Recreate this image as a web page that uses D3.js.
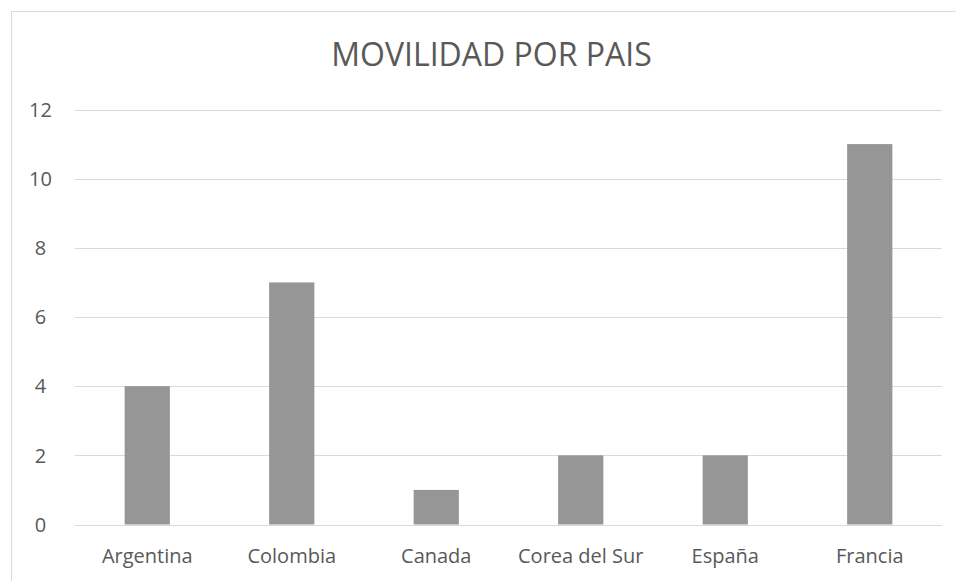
<!DOCTYPE html>
<html>
<head>
<meta charset="utf-8">
<script src="https://cdn.jsdelivr.net/npm/d3@7"></script>
<style>
  html, body { margin: 0; padding: 0; background: #fff; }
  svg { display: block; }
  text { font-family: "Open Sans", "Noto Sans", sans-serif; fill: #595959; }
</style>
</head>
<body>
<svg id="chart" width="956" height="581"></svg>
<script>
// Movilidad por país
const categories = ["Argentina", "Colombia", "Canada", "Corea del Sur", "España", "Francia"];
const values = [4, 7, 1, 2, 2, 11];
const yTicks = [0, 2, 4, 6, 8, 10, 12];
const title = "MOVILIDAD POR PAIS";

const W = 956, H = 581;
const margin = { left: 75, right: 14, top: 109.5, bottom: 56.5 };
const font = "'Open Sans', 'Noto Sans', sans-serif";

const svg = d3.select("#chart");

// chart frame
svg.append("rect")
  .attr("x", 11.5).attr("y", 11.5)
  .attr("width", W + 20).attr("height", H + 20)
  .attr("fill", "none").attr("stroke", "#d9d9d9").attr("stroke-width", 1);

const x = d3.scaleBand()
  .domain(categories)
  .range([margin.left, W - margin.right])
  .paddingInner(0.687)
  .paddingOuter(0.3435);

const y = d3.scaleLinear()
  .domain([0, 12])
  .range([H - margin.bottom, margin.top]);

// gridlines
svg.append("g")
  .selectAll("line")
  .data(yTicks)
  .join("line")
  .attr("x1", margin.left).attr("x2", W - margin.right)
  .attr("y1", d => Math.round(y(d)) + 0.5).attr("y2", d => Math.round(y(d)) + 0.5)
  .attr("stroke", "#d9d9d9").attr("stroke-width", 1);

// bars
svg.append("g")
  .selectAll("rect")
  .data(values)
  .join("rect")
  .attr("x", (d, i) => x(categories[i]))
  .attr("width", x.bandwidth())
  .attr("y", d => y(d))
  .attr("height", d => y(0) - y(d))
  .attr("fill", "#969696");

// y axis labels
const yAxis = d3.axisLeft(y).tickValues(yTicks).tickSize(0).tickPadding(0);
const gy = svg.append("g")
  .attr("transform", `translate(40.5,0)`)
  .call(yAxis);
gy.select(".domain").remove();
gy.selectAll("text")
  .attr("font-size", 20)
  .attr("text-anchor", "middle")
  .attr("dy", "0.34em")
  .style("fill", "#595959")
  .style("font-family", font);

// x axis labels
const xAxis = d3.axisBottom(x).tickSize(0).tickPadding(0);
const gx = svg.append("g")
  .attr("transform", `translate(0,${H - margin.bottom})`)
  .call(xAxis);
gx.select(".domain").remove();
gx.selectAll("text")
  .attr("font-size", 20)
  .attr("y", 38)
  .attr("dy", 0)
  .style("fill", "#595959")
  .style("font-family", font);

// title
svg.append("text")
  .attr("x", 491.5)
  .attr("y", 66)
  .attr("text-anchor", "middle")
  .attr("font-size", 32)
  .text(title);
</script>
</body>
</html>
